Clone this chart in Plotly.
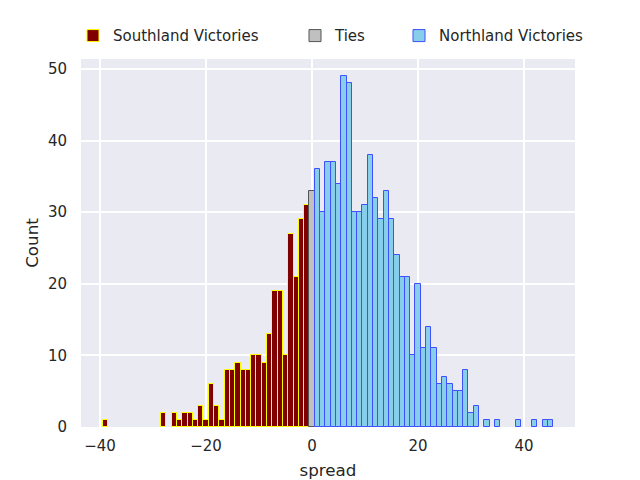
import plotly.graph_objects as go

# spread values (bin centres, width 1) and counts
south_spread = [-39, -28, -26, -25, -24, -23, -22, -21, -20, -19, -18, -17, -16, -15,
                -14, -13, -12, -11, -10, -9, -8, -7, -6, -5, -4, -3, -2, -1]
south_count = [1, 2, 2, 1, 2, 2, 1, 3, 1, 6, 3, 1, 8, 8,
               9, 8, 8, 10, 10, 9, 13, 19, 19, 10, 27, 21, 29, 31]

tie_spread = [0]
tie_count = [33]

north_spread = list(range(1, 32)) + [33, 35, 39, 42, 44, 45]
north_count = [36, 30, 37, 37, 34, 49, 48, 30, 30, 31, 38, 32, 29, 33, 29, 24,
               21, 21, 10, 20, 11, 14, 11, 6, 7, 6, 5, 5, 8, 2, 3,
               1, 1, 1, 1, 1, 1]

x_ticks = [-40, -20, 0, 20, 40]
y_ticks = [0, 10, 20, 30, 40, 50]

txt = "#262626"
font = "DejaVu Sans"

fig = go.Figure()
fig.add_trace(go.Bar(x=south_spread, y=south_count, width=1, name="Southland Victories",
                     legend="legend", showlegend=True,
                     marker=dict(color="#800000", line=dict(color="#ffff00", width=1))))
fig.add_trace(go.Bar(x=tie_spread, y=tie_count, width=1, name="Ties",
                     legend="legend2", showlegend=True,
                     marker=dict(color="#c0c0c0", line=dict(color="#555555", width=1))))
fig.add_trace(go.Bar(x=north_spread, y=north_count, width=1, name="Northland Victories",
                     legend="legend3", showlegend=True,
                     marker=dict(color="#87ceeb", line=dict(color="#3f50ff", width=1))))

# one legend per entry so the spacing can follow the reference
leg = dict(orientation="h", xref="container", yref="container", y=0.942,
           xanchor="left", yanchor="middle", bgcolor="rgba(0,0,0,0)",
           font=dict(size=15, color=txt))

# the page adds an 8px body margin, so margins are offset by it
fig.update_layout(
    width=640, height=480, showlegend=True,
    margin=dict(l=73, r=73, t=51, b=61, autoexpand=False),
    paper_bgcolor="white", plot_bgcolor="#eaeaf2",
    bargap=0, barmode="overlay",
    font=dict(family=font, size=15, color=txt),
    legend=dict(leg, x=65 / 640),
    legend2=dict(leg, x=287 / 640),
    legend3=dict(leg, x=391 / 640),
)
fig.update_xaxes(range=[-43.6, 49.6], tickvals=x_ticks, showgrid=True, gridcolor="white",
                 gridwidth=1.5, zeroline=False, ticks="outside", ticklen=5,
                 tickcolor="rgba(0,0,0,0)", showline=False, automargin=False,
                 title=dict(text="spread", font=dict(size=16.7), standoff=10),
                 tickfont=dict(size=15))
fig.update_yaxes(range=[0, 51.4], tickvals=y_ticks, showgrid=True, gridcolor="white",
                 gridwidth=1.5, zeroline=False, ticks="outside", ticklen=10,
                 tickcolor="rgba(0,0,0,0)", showline=False, automargin=False,
                 title=dict(text="Count", font=dict(size=16.7), standoff=5),
                 tickfont=dict(size=15))

fig.write_html("out.html")
